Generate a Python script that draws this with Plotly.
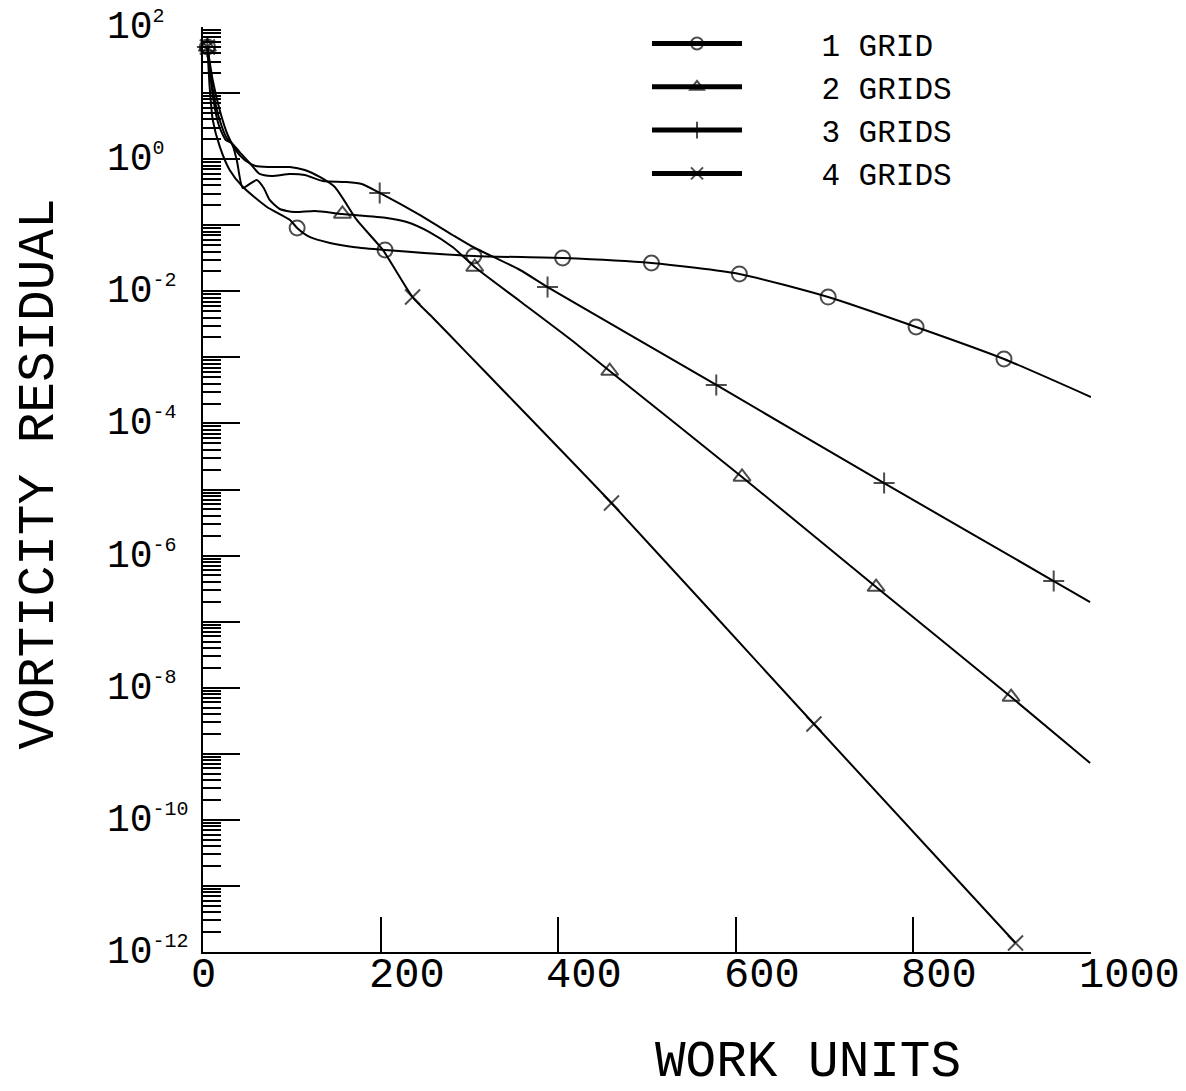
import plotly.graph_objects as go

# ---------------- data ----------------
grid1_x = [5, 7.5, 11, 19, 30, 45, 72, 98, 106, 120, 143, 169, 205, 305, 405, 505, 604, 704, 803, 902, 1000]
grid1_y = [49.8, 12.4, 3.91, 1.53, 0.685, 0.378, 0.189, 0.120, 0.0908, 0.0664, 0.0538, 0.0468, 0.0422,
           0.0342, 0.0319, 0.0268, 0.0183, 0.00818, 0.00288, 0.000944, 0.000251]
grid1_marker_x = [5, 106, 205, 305, 405, 505, 604, 704, 803, 902]

grid2_x = [5, 10.9, 17.7, 25.6, 32.3, 38, 44.7, 52.6, 60.5, 68.4, 75.1, 86.4, 103, 126, 157, 207, 229.5,
           255, 281, 306, 357, 413, 458, 607, 758, 910, 999]
grid2_y = [49.8, 9.35, 3.29, 1.95, 1.75, 0.970, 0.366, 0.421, 0.483, 0.366, 0.241, 0.176, 0.158, 0.164,
           0.148, 0.129, 0.112, 0.0789, 0.0468, 0.0233, 0.00708, 0.00191, 6.21e-4, 1.55e-5, 3.34e-7,
           7.23e-9, 7.24e-10]
grid2_marker_x = [5, 157, 306, 458, 607, 758, 910]

grid3_x = [5, 12.1, 18.8, 26.7, 33.5, 41.3, 52.6, 63.9, 77.4, 97.7, 114.6, 134.9, 159.7, 178.8, 199, 244,
           281, 304, 357, 388, 578, 767, 958, 999]
grid3_y = [49.8, 9.35, 3.91, 2.09, 1.69, 1.28, 0.875, 0.596, 0.556, 0.596, 0.575, 0.467, 0.451, 0.421,
           0.308, 0.143, 0.0711, 0.0468, 0.0210, 0.0116, 3.82e-4, 1.25e-5, 4.12e-7, 1.98e-7]
grid3_marker_x = [5, 199, 388, 578, 767, 958]

grid4_x = [5, 10.9, 18.8, 27.8, 36.8, 46.9, 59.2, 75.1, 97.7, 114.6, 131.5, 148.4, 173.2, 202.5, 236,
           258.8, 297.1, 334.3, 460, 688, 915]
grid4_y = [49.8, 15.8, 5.54, 2.32, 1.37, 0.970, 0.787, 0.760, 0.760, 0.685, 0.537, 0.378, 0.120, 0.0422,
           0.00818, 0.00398, 0.00117, 3.56e-4, 6.24e-6, 2.82e-9, 1.37e-12]
grid4_marker_x = [5, 236, 460, 688, 915]

series_names = ["1 GRID", "2 GRIDS", "3 GRIDS", "4 GRIDS"]

x_tick_values = [0, 200, 400, 600, 800, 1000]
x_tick_labels = ["0", "200", "400", "600", "800", "1000"]
y_tick_exponents = [2, 0, -2, -4, -6, -8, -10, -12]

x_title = "WORK UNITS"
y_title = "VORTICITY RESIDUAL"

# ---------------- figure ----------------
FONT = "Liberation Mono, DejaVu Sans Mono, monospace"
symbols = ["circle-open", "triangle-up-open", "cross-thin-open", "x-thin-open"]
all_series = [
    (grid1_x, grid1_y, grid1_marker_x),
    (grid2_x, grid2_y, grid2_marker_x),
    (grid3_x, grid3_y, grid3_marker_x),
    (grid4_x, grid4_y, grid4_marker_x),
]
LEGEND_PAD = "\u00a0" * 4

fig = go.Figure()
for name, sym, (xs, ys, mxs) in zip(series_names, symbols, all_series):
    sizes = [15 if x in mxs else 0 for x in xs]
    fig.add_trace(go.Scatter(
        x=xs, y=ys, name=LEGEND_PAD + name, mode="lines+markers",
        line=dict(color="black", width=2, shape="spline", smoothing=0.6),
        marker=dict(symbol=sym, size=sizes, color="black",
                    line=dict(color="black", width=2)),
        cliponaxis=False,
    ))

annotations = []
for e in y_tick_exponents:
    annotations.append(dict(
        x=-0.1107, xref="paper", y=e, yref="y", xanchor="left", yanchor="middle",
        text="10<sup><span style='font-size:20px'>%d</span></sup>" % e,
        showarrow=False, font=dict(family=FONT, size=38, color="black"),
    ))
for v, lab in zip(x_tick_values, x_tick_labels):
    annotations.append(dict(
        x=v, xref="x", y=0, yref="paper", xanchor="left", yanchor="top",
        xshift=-14, yshift=2, text=lab, showarrow=False,
        font=dict(family=FONT, size=42, color="black"),
    ))
annotations.append(dict(
    x=0.681, xref="paper", y=-0.1195, yref="paper", xanchor="center", yanchor="middle",
    text=x_title, showarrow=False, font=dict(family=FONT, size=51, color="black"),
))
annotations.append(dict(
    x=-0.184, xref="paper", y=0.517, yref="paper", xanchor="center", yanchor="middle",
    text=y_title, textangle=-90, showarrow=False,
    font=dict(family=FONT, size=51, color="black"),
))

fig.update_layout(
    width=1186, height=1091,
    margin=dict(l=203, r=95, t=27, b=139),
    paper_bgcolor="white", plot_bgcolor="white",
    font=dict(family=FONT, color="black"),
    showlegend=True,
    legend=dict(x=0.5, y=1.011, xanchor="left", yanchor="top",
                font=dict(family=FONT, size=31, color="black"),
                itemwidth=90, itemsizing="constant", bgcolor="rgba(0,0,0,0)",
                tracegroupgap=0),
    annotations=annotations,
)
fig.update_xaxes(
    range=[0, 1000], showline=True, linecolor="black", linewidth=2, mirror=False,
    ticks="inside", ticklen=35, tickwidth=1.5, tickcolor="black",
    tickvals=x_tick_values[1:], showticklabels=False,
    showgrid=False, zeroline=False,
)
fig.update_yaxes(
    type="log", range=[-12, 2], showline=True, linecolor="black", linewidth=2, mirror=False,
    ticks="inside", ticklen=37, tickwidth=1.5, tickcolor="black",
    dtick=1, showticklabels=False, showgrid=False, zeroline=False,
    minor=dict(ticks="inside", ticklen=18, tickwidth=1.5, tickcolor="black", dtick="D1", showgrid=False),
)

fig.write_html("out.html")
